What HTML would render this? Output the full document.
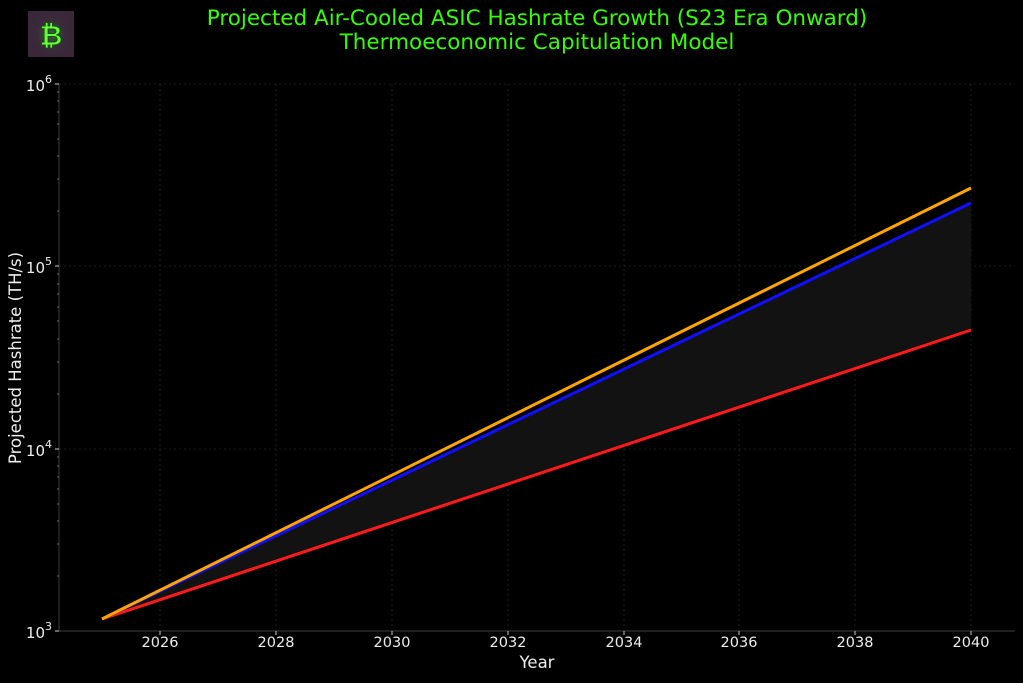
<!DOCTYPE html>
<html><head><style>
body{margin:0;background:#000;width:1023px;height:679px;overflow:hidden;font-family:"DejaVu Sans","Liberation Sans",sans-serif}
</style></head><body>
<svg width="1023" height="679" xmlns="http://www.w3.org/2000/svg" font-family="DejaVu Sans, Liberation Sans, sans-serif">
<rect width="1023" height="679" fill="#000"/>
<defs><radialGradient id="g"><stop offset="0" stop-color="#2a6a2a"/><stop offset="0.6" stop-color="#3a2a3a"/><stop offset="1" stop-color="#3a283a"/></radialGradient></defs>
<rect x="28" y="11" width="46" height="46" fill="url(#g)"/>
<text x="51" y="45" text-anchor="middle" font-size="28" font-weight="bold" fill="#66ff33" stroke="#1a4a1a" stroke-width="1">₿</text>
<text x="537" y="25" text-anchor="middle" font-size="21.5" fill="#33ff00">Projected Air-Cooled ASIC Hashrate Growth (S23 Era Onward)</text>
<text x="537" y="49" text-anchor="middle" font-size="21.5" fill="#33ff00">Thermoeconomic Capitulation Model</text>
<g stroke="#262626" stroke-width="0.8" stroke-dasharray="2,3">
<line x1="160" y1="84" x2="160" y2="630"/><line x1="276" y1="84" x2="276" y2="630"/><line x1="392" y1="84" x2="392" y2="630"/><line x1="508" y1="84" x2="508" y2="630"/><line x1="624" y1="84" x2="624" y2="630"/><line x1="739" y1="84" x2="739" y2="630"/><line x1="855" y1="84" x2="855" y2="630"/><line x1="971" y1="84" x2="971" y2="630"/>
<line x1="59" y1="84" x2="1015" y2="84"/><line x1="59" y1="266" x2="1015" y2="266"/><line x1="59" y1="449" x2="1015" y2="449"/>
</g>
<polygon points="102,619 971,203 971,330" fill="#121212"/>
<line x1="102" y1="619" x2="971" y2="330" stroke="#ff1a1a" stroke-width="3"/>
<line x1="102" y1="619" x2="971" y2="203" stroke="#1010ff" stroke-width="3"/>
<line x1="102" y1="619" x2="971" y2="188" stroke="#ffa500" stroke-width="3"/>
<g stroke="#333" stroke-width="1.2"><line x1="59" y1="84" x2="59" y2="631"/><line x1="59" y1="631" x2="1015" y2="631"/></g>
<g stroke="#ccc" stroke-width="1">
<line x1="55" y1="84" x2="59" y2="84"/><line x1="55" y1="266" x2="59" y2="266"/><line x1="55" y1="449" x2="59" y2="449"/><line x1="55" y1="631" x2="59" y2="631"/>
<line x1="160" y1="631" x2="160" y2="635"/><line x1="276" y1="631" x2="276" y2="635"/><line x1="392" y1="631" x2="392" y2="635"/><line x1="508" y1="631" x2="508" y2="635"/><line x1="624" y1="631" x2="624" y2="635"/><line x1="739" y1="631" x2="739" y2="635"/><line x1="855" y1="631" x2="855" y2="635"/><line x1="971" y1="631" x2="971" y2="635"/>
</g>
<g stroke="#aaa" stroke-width="0.6">
<line x1="57" y1="576" x2="59" y2="576"/><line x1="57" y1="544" x2="59" y2="544"/><line x1="57" y1="521" x2="59" y2="521"/><line x1="57" y1="504" x2="59" y2="504"/><line x1="57" y1="489" x2="59" y2="489"/><line x1="57" y1="477" x2="59" y2="477"/><line x1="57" y1="466" x2="59" y2="466"/><line x1="57" y1="457" x2="59" y2="457"/>
<line x1="57" y1="394" x2="59" y2="394"/><line x1="57" y1="362" x2="59" y2="362"/><line x1="57" y1="339" x2="59" y2="339"/><line x1="57" y1="321" x2="59" y2="321"/><line x1="57" y1="307" x2="59" y2="307"/><line x1="57" y1="294" x2="59" y2="294"/><line x1="57" y1="284" x2="59" y2="284"/><line x1="57" y1="274" x2="59" y2="274"/>
<line x1="57" y1="211" x2="59" y2="211"/><line x1="57" y1="179" x2="59" y2="179"/><line x1="57" y1="156" x2="59" y2="156"/><line x1="57" y1="139" x2="59" y2="139"/><line x1="57" y1="124" x2="59" y2="124"/><line x1="57" y1="112" x2="59" y2="112"/><line x1="57" y1="101" x2="59" y2="101"/><line x1="57" y1="92" x2="59" y2="92"/>
</g>
<g fill="#eee" font-size="15" text-anchor="end">
<text x="52" y="91">10<tspan font-size="11" dy="-8">6</tspan></text>
<text x="52" y="273">10<tspan font-size="11" dy="-8">5</tspan></text>
<text x="52" y="456">10<tspan font-size="11" dy="-8">4</tspan></text>
<text x="52" y="638">10<tspan font-size="11" dy="-8">3</tspan></text>
</g>
<g fill="#eee" font-size="14.5" text-anchor="middle">
<text x="160" y="647">2026</text><text x="276" y="647">2028</text><text x="392" y="647">2030</text><text x="508" y="647">2032</text><text x="624" y="647">2034</text><text x="739" y="647">2036</text><text x="855" y="647">2038</text><text x="971" y="647">2040</text>
</g>
<text x="537" y="668" text-anchor="middle" font-size="16.5" fill="#eee">Year</text>
<text transform="translate(21,358) rotate(-90)" text-anchor="middle" font-size="16.5" fill="#eee">Projected Hashrate (TH/s)</text>
</svg>
</body></html>
